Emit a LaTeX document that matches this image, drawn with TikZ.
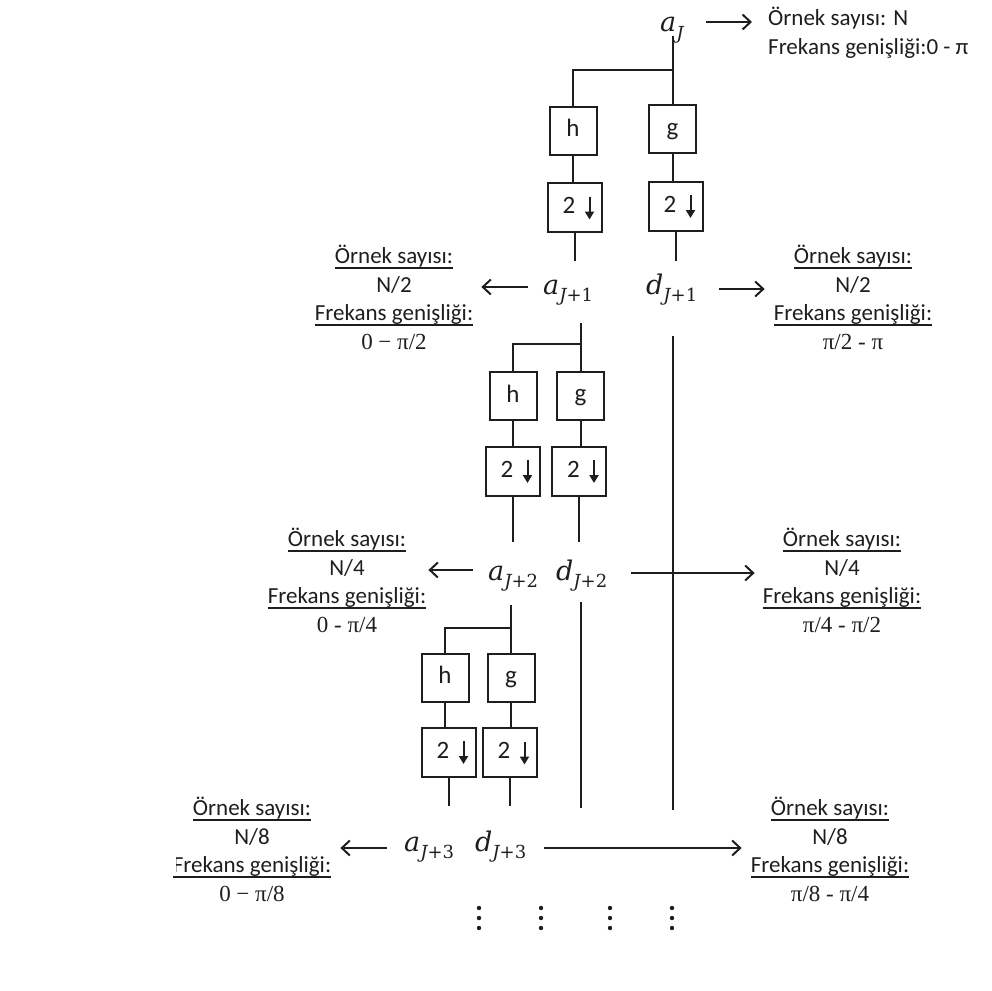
\documentclass[tikz,border=0pt]{standalone}
\usepackage{fontspec}
\setmainfont{Carlito}
\newfontfamily\pifont{Liberation Serif}
\newfontfamily\labfont{DejaVu Serif}
\usetikzlibrary{arrows.meta}
\definecolor{ink}{RGB}{30,30,30}
\newcommand\myul[1]{\setbox0\hbox{#1}\rlap{\rule[-5pt]{\wd0}{1.6pt}}\box0}
\newcommand\lbl[2]{{\labfont\fontsize{27}{30}\selectfont\itshape #1}\raisebox{-7.5pt}{\labfont\fontsize{18}{20}\selectfont #2}}
\begin{document}
\begin{tikzpicture}[x=1pt,y=-1pt,
  wire/.style={draw=ink, line width=2pt},
  fbox/.style={draw=ink, line width=2pt, minimum width=47pt, minimum height=48pt, inner sep=0pt, text height=17pt, text depth=5pt, font=\fontsize{25}{28}\selectfont, text=ink},
  dbox/.style={fbox, minimum width=54pt, minimum height=49pt},
  lab/.style={inner sep=0pt, anchor=base west, text=ink},
  info/.style={inner sep=0pt, anchor=north, align=center, font=\fontsize{23}{28.5}\selectfont, text=ink},
  arr/.style={wire, -{Straight Barb[length=8pt,width=15pt]}},
  darr/.style={draw=ink, line width=2pt, -{Triangle[length=8pt,width=9pt]}}
]
\useasboundingbox (0,0) rectangle (992,990);

% ---------- level 0 ----------
\node[lab] (aJ) at (660,32) {\lbl{a}{\itshape J}};
\node[info, anchor=north west, align=left] (T) at (768,7) {Örnek sayısı: N\\Frekans genişliği:0 - π};

% ---------- level 1 ----------
\node[fbox] (h1) at (573,130.5) {h};
\node[fbox] (g1) at (672.5,129) {g};
\node[dbox] (dh1) at (574.5,207.5) {\makebox[24pt][l]{2}};
\node[dbox] (dg1) at (675.5,206) {\makebox[24pt][l]{2}};
\node[lab] (a1) at (543,294) {\lbl{a}{{\itshape J}+1}};
\node[lab] (d1) at (646,294) {\lbl{d}{{\itshape J}+1}};
\node[info] (L1) at (394,245) {\myul{Örnek sayısı:}\\N/2\\\myul{Frekans genişliği:}\\{\pifont 0 − π/2}};
\node[info] (R1) at (853,245) {\myul{Örnek sayısı:}\\N/2\\\myul{Frekans genişliği:}\\{\pifont π/2 - π}};

% ---------- level 2 ----------
\node[fbox] (h2) at (513,396) {h};
\node[fbox] (g2) at (580.5,395.5) {g};
\node[dbox] (dh2) at (512.5,471) {\makebox[24pt][l]{2}};
\node[dbox] (dg2) at (579,471) {\makebox[24pt][l]{2}};
\node[lab] (a2) at (488,580) {\lbl{a}{{\itshape J}+2}};
\node[lab] (d2) at (556,580) {\lbl{d}{{\itshape J}+2}};
\node[info] (L2) at (347,528) {\myul{Örnek sayısı:}\\N/4\\\myul{Frekans genişliği:}\\{\pifont 0 - π/4}};
\node[info] (R2) at (842,528) {\myul{Örnek sayısı:}\\N/4\\\myul{Frekans genişliği:}\\{\pifont π/4 - π/2}};

% ---------- level 3 ----------
\node[fbox] (h3) at (445,677.5) {h};
\node[fbox] (g3) at (511,677.5) {g};
\node[dbox] (dh3) at (448.5,752) {\makebox[24pt][l]{2}};
\node[dbox] (dg3) at (509.5,752.5) {\makebox[24pt][l]{2}};
\node[lab] (a3) at (404,851) {\lbl{a}{{\itshape J}+3}};
\node[lab] (d3) at (475,851) {\lbl{d}{{\itshape J}+3}};
\node[info] (L3) at (252,797) {\myul{Örnek sayısı:}\\N/8\\\myul{Frekans genişliği:}\\{\pifont 0 − π/8}};
\node[info] (R3) at (830,797) {\myul{Örnek sayısı:}\\N/8\\\myul{Frekans genişliği:}\\{\pifont π/8 - π/4}};
\fill[white] (0,835) rectangle (176,875);

% down-sampling arrows inside boxes
\foreach \b in {dh1,dg1,dh2,dg2,dh3,dg3}
  \draw[darr] ([shift={(15,-11)}]\b.center) -- ([shift={(15,12)}]\b.center);

% ---------- wires level 1 ----------
\draw[wire, shorten <=4pt] (g1.north |- aJ.base) -- (g1.north);
\draw[wire] (h1.north) |- (g1.north |- 0,70);
\draw[wire] (h1.south) -- (h1.south |- dh1.north);
\draw[wire] (g1.south) -- (g1.south |- dg1.north);
\draw[wire] (dh1.south) -- (dh1.south |- 0,261);
\draw[wire] (dg1.south) -- (dg1.south |- 0,261);
\draw[wire, shorten <=42pt] (g1.south |- d1.base) -- (g1.south |- 0,810);

% ---------- wires level 2 ----------
\draw[wire, shorten <=29pt] (g2.north |- a1.base) -- (g2.north);
\draw[wire] (h2.north) |- (g2.north |- 0,344);
\draw[wire] (h2.south) -- (h2.south |- dh2.north);
\draw[wire] (g2.south) -- (g2.south |- dg2.north);
\draw[wire] (dh2.south) -- (dh2.south |- 0,542);
\draw[wire] (dg2.south) -- (dg2.south |- 0,542);
\draw[wire, shorten <=22pt] (g2.south |- d2.base) -- (g2.south |- 0,808);

% ---------- wires level 3 ----------
\draw[wire, shorten <=25pt] (g3.north |- a2.base) -- (g3.north);
\draw[wire] (h3.north) |- (g3.north |- 0,628);
\draw[wire] (h3.south) -- (h3.south |- dh3.north);
\draw[wire] (g3.south) -- (g3.south |- dg3.north);
\draw[wire] (dh3.south) -- (dh3.south |- 0,806);
\draw[wire] (dg3.south) -- (dg3.south |- 0,806);

% ---------- info arrows ----------
\draw[arr, shorten <=22pt, shorten >=16pt] (aJ.east |- 0,22) -- (T.west |- 0,22);
\draw[arr, shorten <=15pt, shorten >=8pt] (a1.west |- 0,287) -- (L1.east |- 0,287);
\draw[arr, shorten <=22pt, shorten >=9pt] (d1.east |- 0,289) -- (R1.west |- 0,289);
\draw[arr, shorten <=15pt, shorten >=2pt] (a2.west |- 0,570) -- (L2.east |- 0,570);
\draw[arr, shorten <=24pt, shorten >=8pt] (d2.east |- 0,573) -- (R2.west |- 0,573);
\draw[arr, shorten <=17pt, shorten >=9pt] (a3.west |- 0,848) -- (L3.east |- 0,848);
\draw[arr, shorten <=18pt, shorten >=9pt] (d3.east |- 0,848) -- (R3.west |- 0,848);

% ---------- continuation dots ----------
\foreach \x in {479,541,610,672}
  \foreach \y in {908,918,928}
    \fill[ink] (\x,\y) circle[radius=2.2pt];
\end{tikzpicture}
\end{document}
